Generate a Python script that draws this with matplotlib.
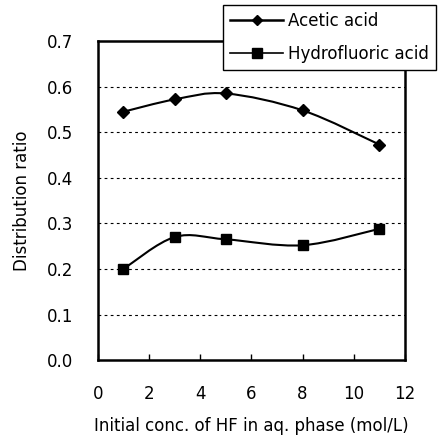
import numpy as np
import matplotlib.pyplot as plt
from matplotlib.path import Path
from matplotlib.patches import PathPatch
from matplotlib.lines import Line2D

plt.rcParams['font.family'] = ['DejaVu Sans']

hf_conc = [1, 3, 5, 8, 11]
acetic = [0.545, 0.572, 0.585, 0.548, 0.473]
hydrofluoric = [0.200, 0.270, 0.265, 0.252, 0.288]


def smooth_path(x, y):
    # Excel-like smoothed line: cubic Bezier through the points (Catmull-Rom)
    x = np.asarray(x, float)
    y = np.asarray(y, float)
    verts = [(x[0], y[0])]
    codes = [Path.MOVETO]
    n = len(x)
    for i in range(n - 1):
        i0 = max(i - 1, 0)
        i3 = min(i + 2, n - 1)
        c1 = (x[i] + (x[i + 1] - x[i0]) / 6, y[i] + (y[i + 1] - y[i0]) / 6)
        c2 = (x[i + 1] - (x[i3] - x[i]) / 6, y[i + 1] - (y[i3] - y[i]) / 6)
        verts += [c1, c2, (x[i + 1], y[i + 1])]
        codes += [Path.CURVE4] * 3
    return Path(verts, codes)


fig = plt.figure(figsize=(4.43, 4.37), dpi=100)
ax = fig.add_axes([0.221, 0.176, 0.693, 0.730])

for yv, mk, ms in [(acetic, 'D', 6.5), (hydrofluoric, 's', 7.5)]:
    ax.add_patch(PathPatch(smooth_path(hf_conc, yv), facecolor='none',
                           edgecolor='black', lw=1.5, zorder=3))
    ax.plot(hf_conc, yv, ls='none', marker=mk, ms=ms, color='black', zorder=4)

ax.set_xlim(0, 12)
ax.set_ylim(0, 0.7)
ax.set_xticks(range(0, 13, 2))
ax.set_yticks(np.arange(0, 0.71, 0.1))
ax.set_yticklabels([f'{v:.1f}' for v in np.arange(0, 0.71, 0.1)])
for v in np.arange(0.1, 0.65, 0.1):
    ax.axhline(v, color='black', lw=0.8, ls=(0, (2.5, 3)), zorder=1)

for s in ax.spines.values():
    s.set_linewidth(1.8)
ax.tick_params(axis='x', direction='in', length=4, width=1, pad=18, labelsize=12)
ax.tick_params(axis='y', length=0, pad=18, labelsize=12)
ax.set_xlabel('Initial conc. of HF in aq. phase (mol/L)', fontsize=12, labelpad=10)
ax.set_ylabel('Distribution ratio', fontsize=12, labelpad=11)

handles = [Line2D([], [], color='black', lw=1.8, marker='D', ms=5.5),
           Line2D([], [], color='black', lw=1.2, marker='s', ms=6.5)]
leg = fig.legend(handles, ['Acetic acid', 'Hydrofluoric acid'],
                 loc='upper right', bbox_to_anchor=(0.984, 0.988),
                 fancybox=False, edgecolor='black', framealpha=1,
                 fontsize=12, handlelength=3.2, handletextpad=0.3,
                 borderpad=0.4, labelspacing=0.9, borderaxespad=0)
leg.get_frame().set_linewidth(1.0)

fig.savefig('out.png', dpi=100)
